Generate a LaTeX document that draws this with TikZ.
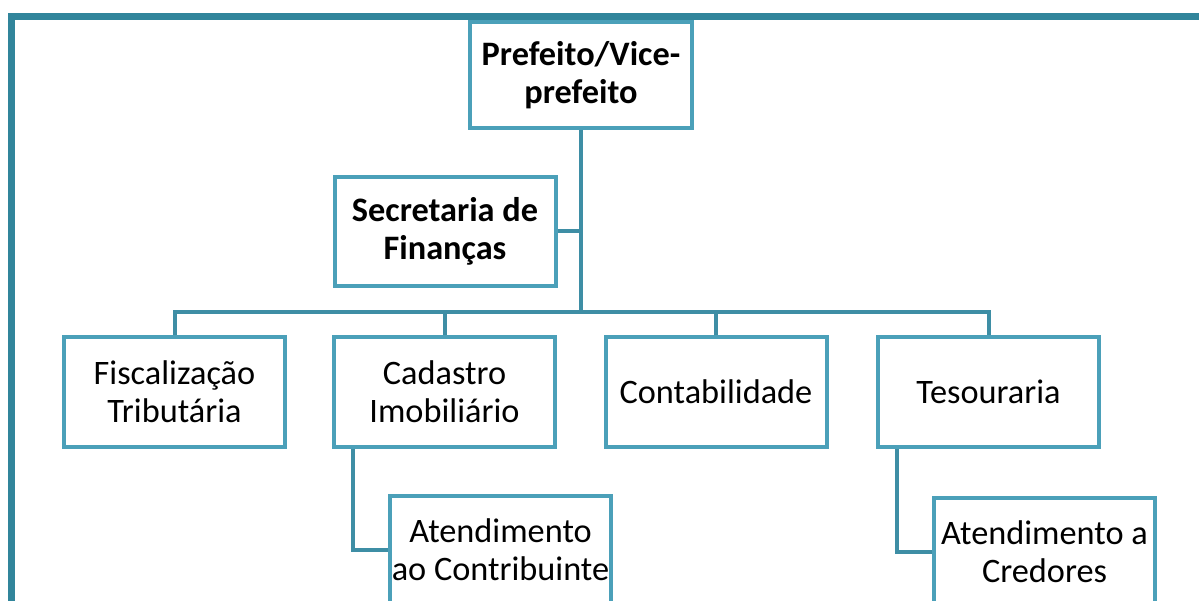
\documentclass[tikz,border=0pt]{standalone}
\usepackage{fontspec}
\setmainfont{Carlito}
\usepackage{tikz}
\definecolor{framecol}{RGB}{49,133,155}
\definecolor{boxcol}{RGB}{75,160,185}
\definecolor{linkcol}{RGB}{62,142,165}

\begin{document}
\begin{tikzpicture}[x=1pt,y=-1pt,
    unit/.style={draw=boxcol, line width=4pt, fill=white, align=center,
        minimum width=221pt, minimum height=109pt, inner sep=0pt,
        font=\fontsize{34.3}{38}\selectfont},
    head/.style={unit, font=\fontsize{34.3}{38}\selectfont\bfseries},
    link/.style={draw=linkcol, line width=4pt}]
            \useasboundingbox (0,0) rectangle (1199,601);
            \clip (0,0) rectangle (1199,601);

            % Frame
            \draw[framecol, line width=7pt] (11,620) -- (11,16.5) -- (1220,16.5);

            % Top
            \node[head, minimum width=222pt, minimum height=106pt] (pref) at (581,75) {Prefeito/Vice-\\prefeito};
            \node[head] (sec) at (445,231.5) {Secretaria de\\Finanças};
            \coordinate (bus) at (581,312);

            % Departments
            \node[unit] (fisc) at (174.5,392) {Fiscalização\\Tributária};
            \node[unit] (cad) at (444.5,392) {Cadastro\\Imobiliário};
            \node[unit] (cont) at (716,392) {Contabilidade};
            \node[unit] (tes) at (988.5,392) {Tesouraria};

            % Sub units
            \node[unit] (atc) at (500.5,550) {Atendimento\\ao Contribuinte};
            \node[unit] (atr) at (1044.5,552) {Atendimento a\\Credores};

            % Connectors
            \draw[link] (pref.south) -- (pref.south |- bus);
            \draw[link] (sec.east) -- (sec.east -| pref.south);
            \draw[link] (fisc.north) |- (tes.north |- bus) -- (tes.north);
            \draw[link] (cad.north) -- (cad.north |- bus);
            \draw[link] (cont.north) -- (cont.north |- bus);
            \draw[link] ([xshift=21pt]cad.south west) |- (atc.west);
            \draw[link] ([xshift=21pt]tes.south west) |- (atr.west);
        \end{tikzpicture}
\end{document}
